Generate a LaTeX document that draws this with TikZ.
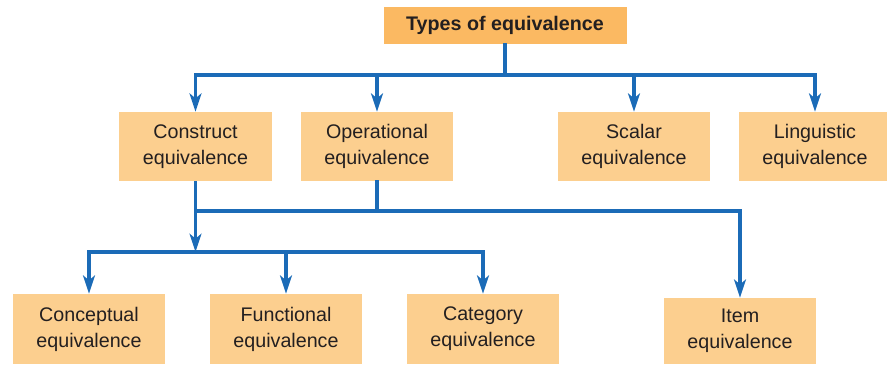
\documentclass[tikz,border=0pt]{standalone}
\usepackage{fontspec}
\setmainfont{Liberation Sans}
\usepackage{xcolor}
\usetikzlibrary{arrows.meta,positioning}
\definecolor{eqorange}{HTML}{FBB962}
\definecolor{eqlight}{HTML}{FCCF8F}
\definecolor{eqblue}{HTML}{1B6BB7}
\definecolor{eqtext}{HTML}{231F20}
\tikzset{
  % boxes
  eqbox/.style={fill=eqlight,text=eqtext,align=center,inner sep=0pt,
    minimum width=108.1pt,minimum height=49.1pt,
    font=\fontsize{14}{18.5}\selectfont},
  topbox/.style={eqbox,fill=eqorange,minimum width=172.8pt,minimum height=26.3pt,
    font=\fontsize{14}{18.5}\selectfont\bfseries},
  % connectors
  link/.style={eqblue,line width=2.2pt,line cap=rect},
  linkarrow/.style={eqblue,line width=2.2pt,-{Stealth[length=13pt,width=8.5pt,inset=3.5pt]}},
}
\begin{document}
\begin{tikzpicture}[x=0.025cm,y=-0.025cm]
\useasboundingbox (0,0) rectangle (887,364);

%% top
\node[topbox] (types) at (505,25.5) {Types of equivalence};

%% second row
\node[eqbox] (construct)   at (195.5,146.5) {Construct\\equivalence};
\node[eqbox] (operational) at (377,146.5)   {Operational\\equivalence};
\node[eqbox] (scalar)      at (634,146.5)   {Scalar\\equivalence};
\node[eqbox] (linguistic)  at (815,146.5)   {Linguistic\\equivalence};

%% bottom row
\node[eqbox,minimum height=49.8pt] (conceptual) at (89,329)  {Conceptual\\equivalence};
\node[eqbox,minimum height=49.8pt] (functional) at (286,329) {Functional\\equivalence};
\node[eqbox,minimum height=49.8pt] (category)   at (483,329) {Category\\equivalence};
\node[eqbox,minimum height=46.9pt] (item)       at (740,331) {Item\\equivalence};

%% bars
\coordinate (topbar) at (505,75);
\coordinate (midbar) at (377,211);
\coordinate (lowbar) at (195.5,252);

% types -> second row
\draw[link] (types) -- (topbar);
\draw[link] (topbar -| construct) -- (topbar -| linguistic);
\foreach \n in {construct,operational,scalar,linguistic}
  \draw[linkarrow] (topbar -| \n) -- (\n);

% construct / operational -> item
\draw[link] (operational) -- (midbar);
\draw[link] (midbar -| construct) -- (midbar);
\draw[linkarrow] (midbar) -| (item);

% construct -> bottom row
\draw[linkarrow] (construct) -- (lowbar);
\draw[link] (lowbar -| conceptual) -- (lowbar -| category);
\foreach \n in {conceptual,functional,category}
  \draw[linkarrow] (lowbar -| \n) -- (\n);
\end{tikzpicture}
\end{document}
